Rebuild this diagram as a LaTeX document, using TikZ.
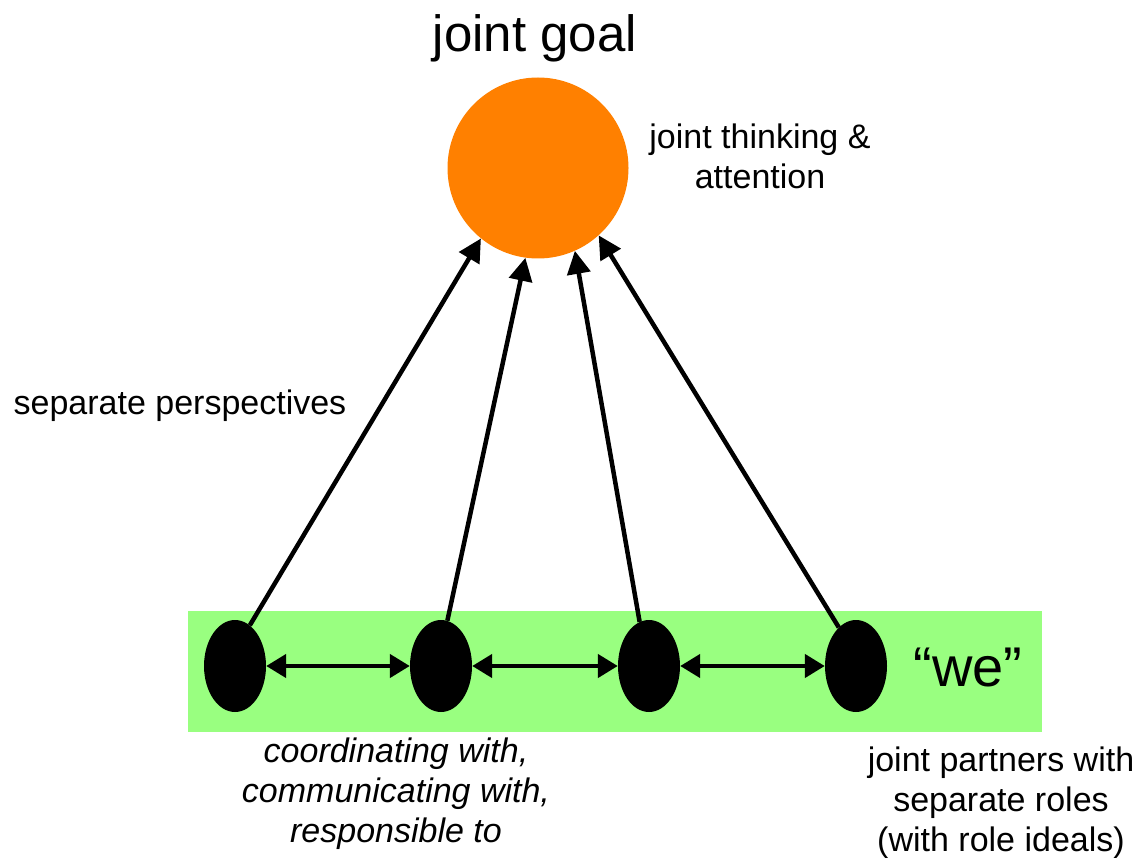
\documentclass[tikz,border=0pt]{standalone}
\usepackage{fontspec}
\setmainfont{Liberation Sans}
\usetikzlibrary{shapes.geometric,arrows.meta}
\definecolor{goalorange}{RGB}{255,128,0}
\definecolor{wegreen}{RGB}{153,255,128}
\begin{document}
\begin{tikzpicture}[x=1pt,y=-1pt,
  txt/.style={inner sep=0pt,font=\fontsize{34}{40}\selectfont,align=center},
  agent/.style={ellipse,fill=black,minimum width=62pt,minimum height=92pt,inner sep=0pt},
  uparrow/.style={line width=4.5pt,-{Triangle[length=23pt,width=23pt]}},
  link/.style={line width=4.5pt,{Triangle[length=20pt,width=23pt]}-{Triangle[length=20pt,width=23pt]}}]
\useasboundingbox (0,0) rectangle (1146,858);
\fill[wegreen] (188,611) rectangle (1042,732);
\node[circle,fill=goalorange,minimum size=181pt,inner sep=0pt] (goal) at (538,168) {};
\node[agent] (e1) at (235,666) {};
\node[agent] (e2) at (441,666) {};
\node[agent] (e3) at (649,666) {};
\node[agent] (e4) at (856,666) {};
\draw[uparrow] (e1.70) -- (goal.231);
\draw[uparrow] (e2.82) -- (goal.262);
\draw[uparrow] (e3.102) -- (goal.294);
\draw[uparrow] (e4.114) -- (goal.312);
\draw[link] (e1) -- (e2);
\draw[link] (e2) -- (e3);
\draw[link] (e3) -- (e4);
\node[txt,font=\fontsize{51}{58}\selectfont] (title) at (535,38) {joint goal};
\node[txt] (think) at (760,156) {joint thinking \&\\attention};
\node[txt] (sep) at (180,406) {separate perspectives};
\node[txt,font=\fontsize{34}{40}\selectfont\itshape] (coord) at (396,794) {coordinating with,\\communicating with,\\responsible to};
\node[txt] (roles) at (1001,803) {joint partners with\\separate roles\\(with role ideals)};
\node[txt,font=\fontsize{56}{60}\selectfont] (we) at (968,668) {“we”};
\end{tikzpicture}
\end{document}
